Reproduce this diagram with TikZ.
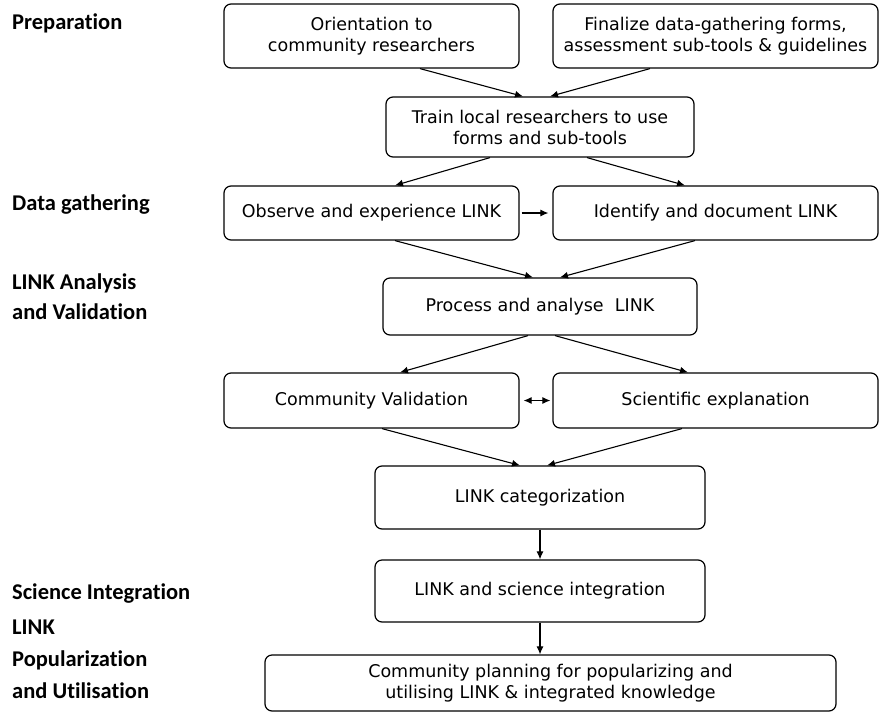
\documentclass[tikz,border=0pt]{standalone}
\usepackage{fontspec}
\setmainfont{DejaVu Sans}
\newfontfamily\lblfont[Ligatures=NoCommon]{Carlito}
\usetikzlibrary{arrows.meta,calc}
\begin{document}
\begin{tikzpicture}[x=1pt,y=-1pt,
 box/.style={draw, rounded corners=7pt, line width=1.2pt, align=center, inner sep=0pt,
   font=\fontsize{17.5}{21}\selectfont},
 tip/.tip={Latex[length=8pt,width=7pt]},
 arr/.style={-tip, line width=1.1pt},
 darr/.style={tip-tip, line width=1.1pt},
 lbl/.style={anchor=base west, inner sep=0pt, font=\lblfont\bfseries\fontsize{22.5}{27}\selectfont}]
\useasboundingbox (0,0) rectangle (879,713);

% left labels
\node[lbl] (l1) at (12,29) {Preparation};
\node[lbl] (l2) at (12,210) {Data gathering};
\node[lbl] (l3) at (12,289) {LINK Analysis};
\node[lbl] (l4) at (12,319) {and Validation};
\node[lbl] (l5) at (12,599) {Science Integration};
\node[lbl] (l6) at (12,634) {LINK};
\node[lbl] (l7) at (12,666) {Popularization};
\node[lbl] (l8) at (12,698) {and Utilisation};

% boxes
\node[box, minimum width=295pt, minimum height=64pt] (orient) at (371.5,36) {Orientation to\\community researchers};
\node[box, minimum width=325pt, minimum height=64pt] (final) at (715.5,36) {Finalize data-gathering forms,\\assessment sub-tools \& guidelines};
\node[box, minimum width=308pt, minimum height=60pt] (train) at (540,127) {Train local researchers to use\\forms and sub-tools};
\node[box, minimum width=295pt, minimum height=54pt] (observe) at (371.5,213) {Observe and experience LINK};
\node[box, minimum width=325pt, minimum height=54pt] (identify) at (715.5,213) {Identify and document LINK};
\node[box, minimum width=314pt, minimum height=57pt] (process) at (540,306.5) {Process and analyse\ \ LINK};
\node[box, minimum width=295pt, minimum height=55pt] (commval) at (371.5,400.5) {Community Validation};
\node[box, minimum width=325pt, minimum height=55pt] (sciexp) at (715.5,400.5) {Scientific explanation};
\node[box, minimum width=330pt, minimum height=63pt] (cat) at (540,497.5) {LINK categorization};
\node[box, minimum width=330pt, minimum height=62pt] (integ) at (540,591) {LINK and science integration};
\node[box, minimum width=571pt, minimum height=56pt] (plan) at (550.5,683) {Community planning for popularizing and\\utilising LINK \& integrated knowledge};

% connectors
\draw[arr] ([xshift=48.5pt]orient.south) -- ([xshift=-17pt]train.north);
\draw[arr] ([xshift=-65.5pt]final.south) -- ([xshift=10pt]train.north);
\draw[arr] ([xshift=-50pt]train.south) -- ([xshift=23.5pt]observe.north);
\draw[arr] ([xshift=47pt]train.south) -- ([xshift=-30.5pt]identify.north);
\draw[arr, shorten <=2pt, shorten >=4pt] (observe.east) -- (identify.west);
\draw[arr] ([xshift=23.5pt]observe.south) -- ([xshift=-7pt]process.north);
\draw[arr] ([xshift=-20.5pt]identify.south) -- ([xshift=20pt]process.north);
\draw[arr] ([xshift=-12pt]process.south) -- ([xshift=28.5pt]commval.north);
\draw[arr] ([xshift=15pt]process.south) -- ([xshift=-27.5pt]sciexp.north);
\draw[darr, shorten <=4pt, shorten >=2pt] (commval.east) -- (sciexp.west);
\draw[arr] ([xshift=10.5pt]commval.south) -- ([xshift=-20pt]cat.north);
\draw[arr] ([xshift=-33.5pt]sciexp.south) -- ([xshift=7pt]cat.north);
\draw[arr] (cat.south) -- (integ.north);
\draw[arr] (integ.south) -- (integ.south |- plan.north);
\end{tikzpicture}
\end{document}
